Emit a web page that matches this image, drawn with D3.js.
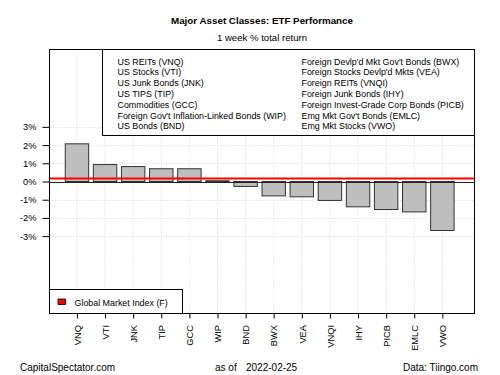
<!DOCTYPE html>
<html>
<head>
<meta charset="utf-8">
<script src="https://cdn.jsdelivr.net/npm/d3@7"></script>
<style>
  body { margin: 0; background: #fff; }
  svg { font-family: "Liberation Sans", Arial, sans-serif; }
</style>
</head>
<body>
<svg id="chartSVG"></svg>
<script>
// chart data
let tickers = ['VNQ', 'VTI', 'JNK', 'TIP', 'GCC', 'WIP', 'BND', 'BWX', 'VEA', 'VNQI', 'IHY', 'PICB', 'EMLC', 'VWO'];
let returns = [2.07, 0.93, 0.82, 0.70, 0.70, 0.04, -0.27, -0.79, -0.84, -1.04, -1.39, -1.54, -1.67, -2.69];
let globalIndex = 0.16;
let yTicks = [-3, -2, -1, 0, 1, 2, 3];

let legendLeft = ['US REITs (VNQ)', 'US Stocks (VTI)', 'US Junk Bonds (JNK)', 'US TIPS (TIP)',
  'Commodities (GCC)', "Foreign Gov't Inflation-Linked Bonds (WIP)", 'US Bonds (BND)'];
let legendRight = ["Foreign Devlp'd Mkt Gov't Bonds (BWX)", "Foreign Stocks Devlp'd Mkts (VEA)",
  'Foreign REITs (VNQI)', 'Foreign Junk Bonds (IHY)', 'Foreign Invest-Grade Corp Bonds (PICB)',
  "Emg Mkt Gov't Bonds (EMLC)", 'Emg Mkt Stocks (VWO)'];

let widthSVG = 500;
let heightSVG = 375;
let box = { left: 49.5, right: 474.5, top: 49.5, bottom: 313.5 };

let SVG = d3.select('svg#chartSVG')
            .attr('width', widthSVG)
            .attr('height', heightSVG);

// R barplot style positions: centers at 0.7 + 1.2*i, usr extended 4%
let n = tickers.length;
let x = d3.scaleLinear()
          .domain([0.2 - 0.04 * (n * 1.2), 0.2 + n * 1.2 + 0.04 * (n * 1.2)])
          .range([box.left, box.right]);
let y = d3.scaleLinear().domain([-7.25, 7.25]).range([box.bottom, box.top]);
let barW = x(1) - x(0);
let cx = i => x(0.7 + 1.2 * i);

// grid
SVG.append('g')
   .selectAll('line')
   .data(tickers)
   .enter()
   .append('line')
   .attr('x1', (d, i) => cx(i)).attr('x2', (d, i) => cx(i))
   .attr('y1', box.top).attr('y2', box.bottom)
   .style('stroke', '#d3d3d3').style('stroke-dasharray', '1,2');

SVG.append('g')
   .selectAll('line')
   .data(yTicks.filter(d => d != 0))
   .enter()
   .append('line')
   .attr('x1', box.left).attr('x2', box.right)
   .attr('y1', d => Math.round(y(d)) + 0.5).attr('y2', d => Math.round(y(d)) + 0.5)
   .style('stroke', '#d3d3d3').style('stroke-dasharray', '1,2');

// bars
SVG.append('g')
   .selectAll('rect')
   .data(returns)
   .enter()
   .append('rect')
   .attr('x', (d, i) => cx(i) - barW / 2)
   .attr('width', barW)
   .attr('y', d => y(Math.max(0, d)))
   .attr('height', d => Math.abs(y(d) - y(0)))
   .style('fill', '#bebebe')
   .style('stroke', '#333')
   .style('stroke-width', 1);

// zero line
SVG.append('line')
   .attr('x1', box.left).attr('x2', box.right)
   .attr('y1', Math.round(y(0)) + 0.5).attr('y2', Math.round(y(0)) + 0.5)
   .style('stroke', '#222');

// global market index line
SVG.append('line')
   .attr('x1', box.left).attr('x2', box.right)
   .attr('y1', y(globalIndex)).attr('y2', y(globalIndex))
   .style('stroke', '#ff0000').style('stroke-width', 2);

// plot box
SVG.append('rect')
   .attr('x', box.left).attr('y', box.top)
   .attr('width', box.right - box.left).attr('height', box.bottom - box.top)
   .style('fill', 'none').style('stroke', '#000');

// y axis
let yAxis = d3.axisLeft(y)
              .tickValues(yTicks)
              .tickSize(7)
              .tickPadding(6)
              .tickFormat(d => d + '%');
let yG = SVG.append('g')
            .attr('transform', `translate(${box.left}, 0)`)
            .call(yAxis);
yG.select('.domain').remove();
yG.selectAll('text').style('font-size', '9.3px').style('fill', '#000')
  .style('font-family', '"Liberation Sans", Arial, sans-serif');

// x axis
let xAxis = d3.axisBottom(x)
              .tickValues(tickers.map((d, i) => 0.7 + 1.2 * i))
              .tickSize(5)
              .tickFormat((d, i) => tickers[i]);
let xG = SVG.append('g')
            .attr('transform', `translate(0, ${box.bottom})`)
            .call(xAxis);
xG.select('.domain').remove();
xG.selectAll('text')
  .attr('transform', 'rotate(-90)')
  .attr('x', -11.5)
  .attr('y', 0)
  .attr('dy', '0.35em')
  .style('text-anchor', 'end')
  .style('font-size', '9.3px')
  .style('fill', '#000')
  .style('font-family', '"Liberation Sans", Arial, sans-serif');

// top legend box
SVG.append('rect')
   .attr('x', 102.5).attr('y', box.top)
   .attr('width', box.right - 102.5).attr('height', 86)
   .style('fill', '#fff').style('stroke', '#000');

let lineH = 10.8;
SVG.append('g')
   .selectAll('text')
   .data(legendLeft)
   .enter()
   .append('text')
   .attr('x', 117.5)
   .attr('y', (d, i) => 64.5 + i * lineH)
   .text(d => d)
   .style('font-size', '8.9px');

SVG.append('g')
   .selectAll('text')
   .data(legendRight)
   .enter()
   .append('text')
   .attr('x', 301.5)
   .attr('y', (d, i) => 64.5 + i * lineH)
   .text(d => d)
   .style('font-size', '8.9px');

// bottom legend box
SVG.append('rect')
   .attr('x', box.left).attr('y', 289.5)
   .attr('width', 133).attr('height', box.bottom - 289.5)
   .style('fill', '#fff').style('stroke', '#000');
SVG.append('rect')
   .attr('x', 58).attr('y', 299)
   .attr('width', 7.5).attr('height', 5.5)
   .style('fill', '#ff0000').style('stroke', '#000').style('stroke-width', 0.8);
SVG.append('text')
   .attr('x', 74.5).attr('y', 305.5)
   .text('Global Market Index (F)')
   .style('font-size', '8.9px');

// titles
SVG.append('text')
   .attr('x', (box.left + box.right) / 2).attr('y', 24)
   .style('text-anchor', 'middle')
   .style('font-weight', 'bold')
   .style('font-size', '9.8px')
   .text('Major Asset Classes: ETF Performance');
SVG.append('text')
   .attr('x', (box.left + box.right) / 2).attr('y', 40.5)
   .style('text-anchor', 'middle')
   .style('font-size', '9.6px')
   .text('1 week % total return');

// footer
SVG.append('text').attr('x', 20).attr('y', 371).style('font-size', '10px').text('CapitalSpectator.com');
SVG.append('text').attr('x', 215).attr('y', 371).style('font-size', '10px').text('as of');
SVG.append('text').attr('x', 246).attr('y', 371).style('font-size', '10px').text('2022-02-25');
SVG.append('text').attr('x', 478).attr('y', 371).style('text-anchor', 'end').style('font-size', '10px').text('Data: Tiingo.com');
</script>
</body>
</html>
